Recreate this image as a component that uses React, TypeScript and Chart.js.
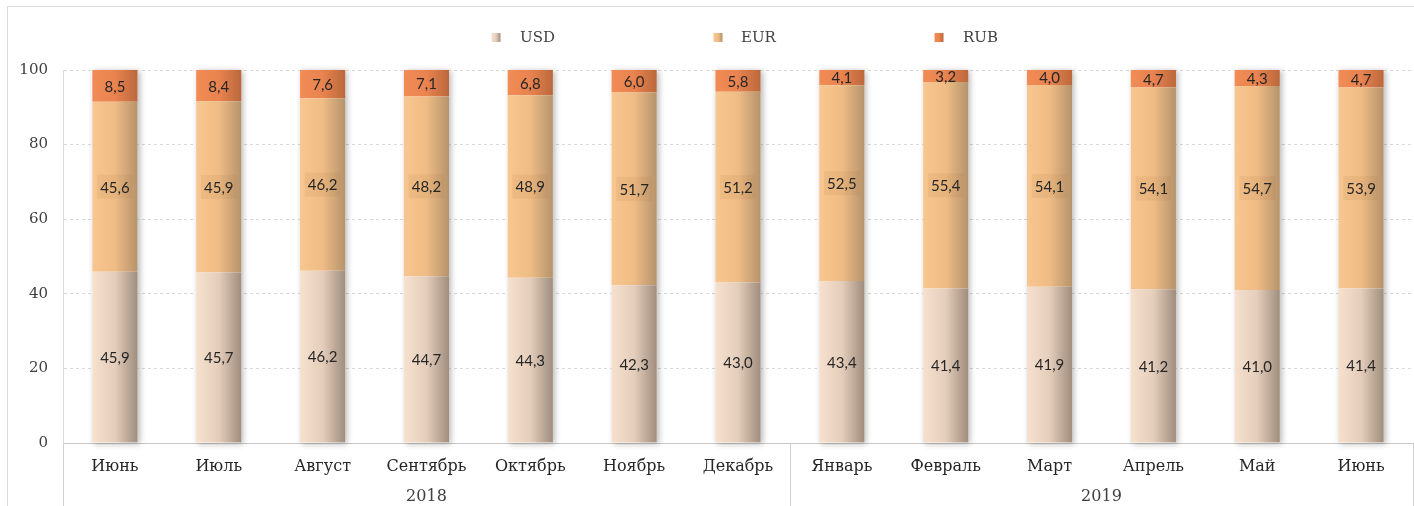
import React, { useEffect, useRef } from 'react';
import { Chart, registerables } from 'chart.js';

Chart.register(...registerables);

const months = ['Июнь', 'Июль', 'Август', 'Сентябрь', 'Октябрь', 'Ноябрь', 'Декабрь', 'Январь', 'Февраль', 'Март', 'Апрель', 'Май', 'Июнь'];
const years = ['2018', '2019'];
const yearSpans = [7, 6];
const usd = [45.9, 45.7, 46.2, 44.7, 44.3, 42.3, 43.0, 43.4, 41.4, 41.9, 41.2, 41.0, 41.4];
const eur = [45.6, 45.9, 46.2, 48.2, 48.9, 51.7, 51.2, 52.5, 55.4, 54.1, 54.1, 54.7, 53.9];
const rub = [8.5, 8.4, 7.6, 7.1, 6.8, 6.0, 5.8, 4.1, 3.2, 4.0, 4.7, 4.3, 4.7];
const yTicks = [0, 20, 40, 60, 80, 100];

const BAR_PCT = 0.435;
const SERIF = '"DejaVu Serif", serif';
const SANS = 'Lato, sans-serif';

const palettes: string[][] = [
  ['#f6e0ce', '#e4cdbb', '#a08d7d'],
  ['#f8c690', '#efbc85', '#b5936c'],
  ['#f28c56', '#e9834f', '#bb683c'],
];

function barGradient(ctx: any, stops: string[]) {
  const chart = ctx.chart;
  const xs = chart.scales && chart.scales.x;
  if (ctx.dataIndex === undefined || !xs || !chart.chartArea) return stops[1];
  const center = xs.getPixelForValue(ctx.dataIndex);
  const w = (xs.width / months.length) * BAR_PCT;
  const g = chart.ctx.createLinearGradient(center - w / 2, 0, center + w / 2, 0);
  g.addColorStop(0, stops[0]);
  g.addColorStop(0.5, stops[1]);
  g.addColorStop(1, stops[2]);
  return g;
}

const decor = {
  id: 'decor',
  beforeDraw(chart: any) {
    const c = chart.ctx;
    c.save();
    c.fillStyle = '#ffffff';
    c.fillRect(0, 0, chart.width, chart.height);
    c.strokeStyle = '#d9d9d9';
    c.lineWidth = 1;
    c.strokeRect(7.5, 6.5, chart.width + 10, chart.height + 10);
    c.restore();
  },
  beforeDatasetsDraw(chart: any) {
    const c = chart.ctx;
    const xs = chart.scales.x;
    const ys = chart.scales.y;
    const w = (xs.width / months.length) * BAR_PCT;
    c.save();
    c.shadowColor = 'rgba(0,0,0,0.28)';
    c.shadowBlur = 6;
    c.shadowOffsetX = 2;
    c.shadowOffsetY = 1;
    c.fillStyle = '#ffffff';
    months.forEach((_, i) => {
      const cx = xs.getPixelForValue(i);
      const top = ys.getPixelForValue(usd[i] + eur[i] + rub[i]);
      const bot = ys.getPixelForValue(0);
      c.fillRect(cx - w / 2, top, w, bot - top);
    });
    c.restore();
  },
  afterDatasetsDraw(chart: any) {
    const c = chart.ctx;
    c.save();
    c.font = '15px ' + SANS;
    c.textAlign = 'center';
    c.textBaseline = 'middle';
    chart.data.datasets.forEach((ds: any, di: number) => {
      const meta = chart.getDatasetMeta(di);
      meta.data.forEach((bar: any, i: number) => {
        const v = ds.data[i];
        const txt = v.toFixed(1).replace('.', ',');
        const yMid = (bar.y + bar.base) / 2;
        if (di === 1) {
          const tw = c.measureText(txt).width;
          c.fillStyle = 'rgba(170,110,50,0.10)';
          c.fillRect(bar.x - tw / 2 - 3, yMid - 12, tw + 6, 24);
        }
        c.fillStyle = '#262626';
        c.fillText(txt, bar.x, yMid + 1);
      });
    });
    c.restore();
  },
  afterDraw(chart: any) {
    const c = chart.ctx;
    const xs = chart.scales.x;
    const area = chart.chartArea;
    c.save();
    c.strokeStyle = '#d0d0d0';
    c.lineWidth = 1;
    const bounds: number[] = [area.left];
    let idx = 0;
    yearSpans.forEach((n) => {
      idx += n;
      const b = idx >= months.length ? area.right : (xs.getPixelForValue(idx - 1) + xs.getPixelForValue(idx)) / 2;
      bounds.push(b);
    });
    bounds.forEach((b) => {
      const xx = Math.round(b) + 0.5;
      c.beginPath();
      c.moveTo(xx, area.bottom);
      c.lineTo(xx, chart.height);
      c.stroke();
    });
    c.fillStyle = '#404040';
    c.font = '16px ' + SERIF;
    c.textAlign = 'center';
    c.textBaseline = 'middle';
    years.forEach((yr, i) => {
      c.fillText(yr, (bounds[i] + bounds[i + 1]) / 2, 497);
    });
    const boxX = [496, 718, 939];
    const txtX = [520, 741, 963];
    c.font = '15px ' + SERIF;
    chart.data.datasets.forEach((ds: any, di: number) => {
      const p = palettes[di];
      const g = c.createLinearGradient(boxX[di] - 4.5, 0, boxX[di] + 4.5, 0);
      g.addColorStop(0, p[0]);
      g.addColorStop(0.5, p[1]);
      g.addColorStop(1, p[2]);
      c.fillStyle = g;
      c.fillRect(boxX[di] - 4.5, 33, 9, 9);
      c.fillStyle = '#404040';
      c.textAlign = 'left';
      c.fillText(ds.label, txtX[di], 38);
    });
    c.restore();
  },
};

export default function App() {
  const ref = useRef<HTMLCanvasElement | null>(null);
  useEffect(() => {
    if (!ref.current) return;
    const chart = new Chart(ref.current, {
      type: 'bar',
      data: {
        labels: months,
        datasets: [
          { label: 'USD', data: usd, backgroundColor: (ctx: any) => barGradient(ctx, palettes[0]) },
          { label: 'EUR', data: eur, backgroundColor: (ctx: any) => barGradient(ctx, palettes[1]) },
          { label: 'RUB', data: rub, backgroundColor: (ctx: any) => barGradient(ctx, palettes[2]) },
        ],
      },
      options: {
        responsive: false,
        animation: false,
        events: [],
        layout: { padding: { top: 70, right: 1, left: 0, bottom: 0 } },
        datasets: { bar: { barPercentage: BAR_PCT, categoryPercentage: 1, borderWidth: 0 } },
        plugins: { legend: { display: false }, tooltip: { enabled: false }, title: { display: false } },
        scales: {
          x: {
            stacked: true,
            grid: { display: false, drawTicks: false },
            border: { display: true, color: '#c8c8c8' },
            ticks: { color: '#262626', font: { family: SERIF, size: 16 }, padding: 14, maxRotation: 0, autoSkip: false },
            afterFit: (s: any) => { s.height = 63; },
          },
          y: {
            stacked: true,
            min: 0,
            max: 100,
            afterBuildTicks: (s: any) => { s.ticks = yTicks.map((v) => ({ value: v })); },
            grid: { color: '#d9d9d9', drawTicks: false },
            border: { display: true, color: '#d9d9d9', dash: [3, 3] },
            ticks: { color: '#404040', font: { family: SERIF, size: 15 }, padding: 15 },
            afterFit: (s: any) => { s.width = 63; },
          },
        },
      },
      plugins: [decor],
    });
    return () => chart.destroy();
  }, []);
  return (
    <div style={{ position: 'fixed', left: 0, top: 0, width: 1414, height: 506 }}>
      <canvas ref={ref} width={1414} height={506} />
    </div>
  );
}
